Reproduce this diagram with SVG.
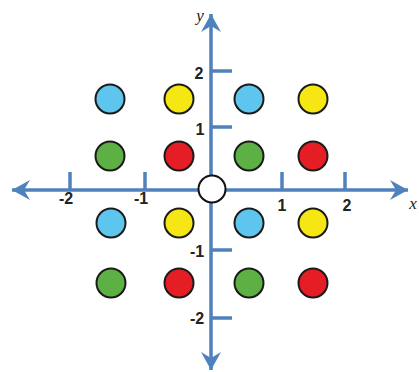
<svg xmlns="http://www.w3.org/2000/svg" width="419" height="372" viewBox="0 0 419 372">
<defs>
<style>
.ax{stroke:#4f81bd;stroke-width:3.5;fill:none}
.tk{stroke:#4f81bd;stroke-width:3.5}
.num{font-family:"Liberation Sans",Arial,sans-serif;font-weight:bold;font-size:16px;fill:#222;text-anchor:middle}
.var{font-family:"Liberation Serif","Times New Roman",serif;font-style:italic;font-size:17px;fill:#222;text-anchor:middle}
.pt{stroke:#1a1a1a;stroke-width:2}
.b{fill:#5ec5ee}.y{fill:#f5e614}.g{fill:#5db043}.r{fill:#e51e25}
</style>
<marker id="ah" viewBox="0 0 20 20" refX="18" refY="10" markerWidth="20" markerHeight="20" markerUnits="userSpaceOnUse" orient="auto">
<path d="M18,10 L0,0 L6,10 L0,20 Z" fill="#4f81bd"/>
</marker>
</defs>
<g id="connectors">
<line class="ax" x1="211" y1="190" x2="408" y2="190" marker-end="url(#ah)"/>
<line class="ax" x1="211" y1="190" x2="12" y2="190" marker-end="url(#ah)"/>
<line class="ax" x1="211" y1="190" x2="211" y2="14" marker-end="url(#ah)"/>
<line class="ax" x1="211" y1="190" x2="211" y2="370" marker-end="url(#ah)"/>
</g>
<g id="ticks">
<line class="tk" x1="70" y1="172" x2="70" y2="190"/>
<line class="tk" x1="145" y1="172" x2="145" y2="190"/>
<line class="tk" x1="282" y1="172" x2="282" y2="190"/>
<line class="tk" x1="345" y1="172" x2="345" y2="190"/>
<line class="tk" x1="211" y1="71" x2="232" y2="71"/>
<line class="tk" x1="211" y1="127" x2="232" y2="127"/>
<line class="tk" x1="211" y1="250" x2="232" y2="250"/>
<line class="tk" x1="211" y1="318" x2="232" y2="318"/>
</g>
<g id="labels">
<text class="num" x="66" y="204">-2</text>
<text class="num" x="141" y="204">-1</text>
<text class="num" x="282" y="211">1</text>
<text class="num" x="347" y="211">2</text>
<text class="num" x="199" y="79">2</text>
<text class="num" x="200" y="135">1</text>
<text class="num" x="197" y="257">-1</text>
<text class="num" x="197" y="324">-2</text>
<text class="var" x="413" y="209">x</text>
<text class="var" x="200" y="21">y</text>
</g>
<g id="points">
<circle class="pt b" cx="110" cy="99" r="14.5"/>
<circle class="pt y" cx="179" cy="99" r="14.5"/>
<circle class="pt b" cx="249" cy="99" r="14.5"/>
<circle class="pt y" cx="313" cy="99" r="14.5"/>
<circle class="pt g" cx="110" cy="156" r="14.5"/>
<circle class="pt r" cx="179" cy="156" r="14.5"/>
<circle class="pt g" cx="249" cy="156" r="14.5"/>
<circle class="pt r" cx="313" cy="156" r="14.5"/>
<circle class="pt b" cx="111" cy="223" r="14.5"/>
<circle class="pt y" cx="179" cy="223" r="14.5"/>
<circle class="pt b" cx="249" cy="223" r="14.5"/>
<circle class="pt y" cx="313" cy="223" r="14.5"/>
<circle class="pt g" cx="111" cy="283" r="14.5"/>
<circle class="pt r" cx="179" cy="283" r="14.5"/>
<circle class="pt g" cx="249" cy="283" r="14.5"/>
<circle class="pt r" cx="313" cy="283" r="14.5"/>
</g>
<g id="origin">
<circle cx="212" cy="189" r="13.5" fill="#fff" stroke="#111" stroke-width="2"/>
</g>
</svg>
